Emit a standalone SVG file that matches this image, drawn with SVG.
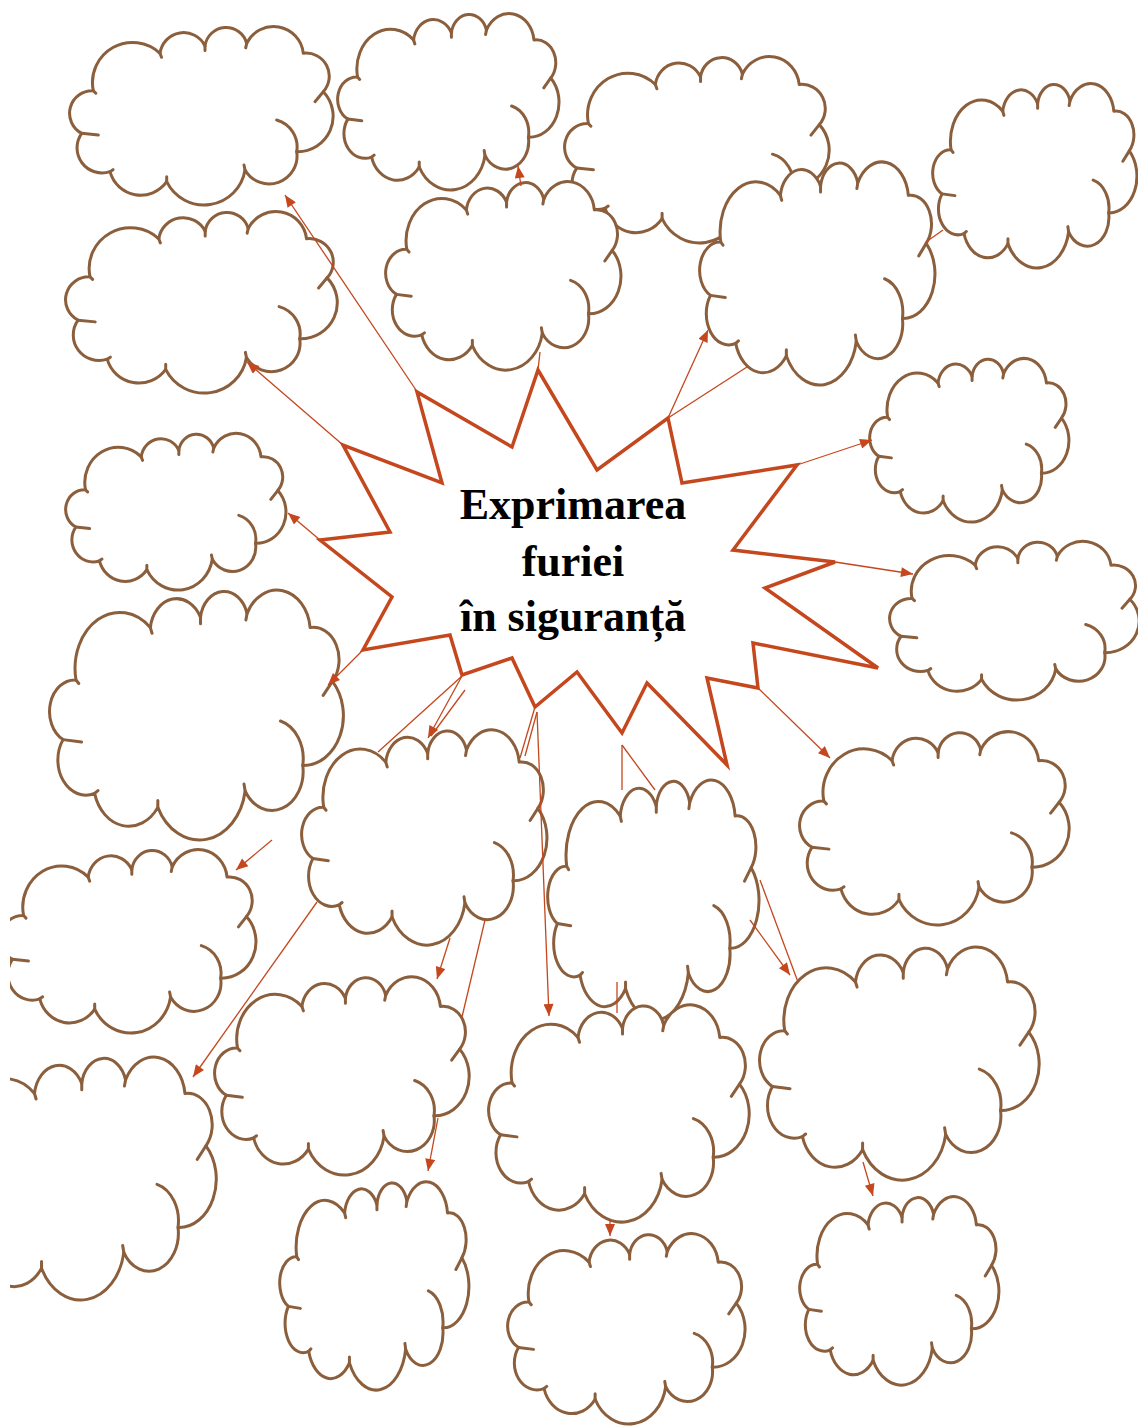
<svg xmlns="http://www.w3.org/2000/svg" xmlns:xlink="http://www.w3.org/1999/xlink" width="1138" height="1426" viewBox="0 0 1138 1426">
<style>
.co{fill:#fff;stroke:#8b5e3c;stroke-width:3;vector-effect:non-scaling-stroke;stroke-linejoin:round}
.ct{fill:none;stroke:#8b5e3c;stroke-width:3;vector-effect:non-scaling-stroke;stroke-linecap:round}
.ln{fill:none;stroke:#c4471d;stroke-width:1.3}
.ar{fill:none;stroke:#c4471d;stroke-width:1.3;marker-end:url(#ah)}
.star{fill:#fff;stroke:#c4471d;stroke-width:3.5;stroke-linejoin:miter}
.t{font-family:"Liberation Serif","Times New Roman",serif;font-weight:bold;font-size:44px;fill:#000;text-anchor:middle}
</style>
<defs>
<marker id="ah" viewBox="0 0 12 10" refX="12" refY="5" markerWidth="13" markerHeight="10" markerUnits="userSpaceOnUse" orient="auto"><path d="M0,0 L12,5 L0,10 z" fill="#c4471d"/></marker>
<clipPath id="clipL"><rect x="10" y="0" width="1128" height="1426"/></clipPath>
<g id="cloud">
<path class="co" d="M23.3 65.7 A40.1 40.1 0 0 1 90 28.3 A23.8 23.8 0 0 1 135 21 A21.3 21.3 0 0 1 176.7 18.3 A29.9 29.9 0 0 1 233.3 28.3 A23.1 23.1 0 0 1 253.3 66.7 A35.5 35.5 0 0 1 226.7 126.7 A27.9 27.9 0 0 1 175 145 A41.5 41.5 0 0 1 96.7 156.7 A31.8 31.8 0 0 1 40 146.7 A25.1 25.1 0 0 1 11.7 108.3 A22.6 22.6 0 0 1 23.3 65.7 Z"/>
<path class="ct" d="M23.3 65.7 l2.5 2.5 M90 28.3 l1.5 4 M135 21 l0 4.5 M176.7 18.3 l-1 4.5 M253.3 66.7 l-8.3 10 M206.7 95 A28 28 0 0 1 226.7 126.7 M175 145 l-1 -5 M96.7 156.7 l0 -5 M40 146.7 l3 -2 M11.7 108.3 l16.6 1.7"/>
</g>
</defs>
<rect width="1138" height="1426" fill="#fff"/>
<g id="clouds">
<use id="c1" xlink:href="#cloud" transform="translate(70,25) scale(1,1)"/>
<use id="c2" xlink:href="#cloud" transform="translate(338,12) scale(0.840,0.989)"/>
<use id="c3" xlink:href="#cloud" transform="translate(565,55) scale(1.004,1.044)"/>
<use id="c4" xlink:href="#cloud" transform="translate(933,82) scale(0.775,1.033)"/>
<use id="c5" xlink:href="#cloud" transform="translate(66,210) scale(1.031,1.017)"/>
<use id="c6" xlink:href="#cloud" transform="translate(386,180) scale(0.893,1.056)"/>
<use id="c7" xlink:href="#cloud" transform="translate(700,160) scale(0.893,1.25)"/>
<use id="c8" xlink:href="#cloud" transform="translate(870,357) scale(0.756,0.917)"/>
<use id="c9" xlink:href="#cloud" transform="translate(66,432) scale(0.836,0.878)"/>
<use id="c10" xlink:href="#cloud" transform="translate(890,540) scale(0.947,0.889)"/>
<use id="c11" xlink:href="#cloud" transform="translate(50,588) scale(1.115,1.4)"/>
<use id="c12" xlink:href="#cloud" transform="translate(302,728) scale(0.931,1.206)"/>
<use id="c13" xlink:href="#cloud" transform="translate(548,778) scale(0.802,1.344)"/>
<use id="c14" xlink:href="#cloud" transform="translate(800,730) scale(1.023,1.083)"/>
<g clip-path="url(#clipL)"><use id="c15" xlink:href="#cloud" transform="translate(1,848) scale(0.969,1.028)"/></g>
<use id="c16" xlink:href="#cloud" transform="translate(215,975) scale(0.966,1.111)"/>
<use id="c17" xlink:href="#cloud" transform="translate(489,1003) scale(0.989,1.217)"/>
<use id="c18" xlink:href="#cloud" transform="translate(760,945) scale(1.061,1.306)"/>
<g clip-path="url(#clipL)"><use id="c19" xlink:href="#cloud" transform="translate(-60,1055) scale(1.050,1.361)"/></g>
<use id="c20" xlink:href="#cloud" transform="translate(280,1180) scale(0.718,1.167)"/>
<use id="c21" xlink:href="#cloud" transform="translate(508,1232) scale(0.901,1.067)"/>
<use id="c22" xlink:href="#cloud" transform="translate(800,1195) scale(0.756,1.056)"/>
</g>
<g id="star">
<polygon class="star" points="538,370 597,470 668,418 682,483 797,465 733,550 835,562 765,588 878,668 753,643 758,688 707,678 727,765 647,683 622,733 577,672 535,707 512,658 462,675 450,635 363,650 392,597 320,540 390,532 343,445 442,483 417,392 512,447"/>
<text class="t" x="573" y="519">Exprimarea</text>
<text class="t" x="573" y="576">furiei</text>
<text class="t" x="573" y="631">în siguranță</text>
</g>
<g id="connectors">
<line class="ar" x1="418" y1="393" x2="285" y2="195"/>
<line class="ar" x1="343" y1="445" x2="247" y2="362"/>
<line class="ar" x1="320" y1="540" x2="288" y2="513"/>
<line class="ar" x1="363" y1="650" x2="328" y2="685"/>
<line class="ln" x1="538" y1="370" x2="540" y2="352"/>
<line class="ar" x1="521" y1="186" x2="518" y2="166"/>
<line class="ar" x1="668" y1="418" x2="708" y2="330"/>
<line class="ln" x1="668" y1="418" x2="747" y2="367"/>
<line class="ar" x1="797" y1="465" x2="872" y2="440"/>
<line class="ar" x1="835" y1="562" x2="913" y2="574"/>
<line class="ar" x1="758" y1="688" x2="830" y2="758"/>
<line class="ar" x1="462" y1="676" x2="428" y2="738"/>
<line class="ln" x1="465" y1="690" x2="431" y2="736"/>
<line class="ln" x1="462" y1="676" x2="378" y2="752"/>
<line class="ln" x1="535" y1="707" x2="520" y2="758"/>
<line class="ln" x1="537" y1="712" x2="525" y2="756"/>
<line class="ar" x1="537" y1="712" x2="549" y2="1016"/>
<line class="ln" x1="622" y1="745" x2="622" y2="790"/>
<line class="ln" x1="622" y1="745" x2="655" y2="790"/>
<line class="ar" x1="272" y1="840" x2="236" y2="870"/>
<line class="ar" x1="317" y1="902" x2="193" y2="1077"/>
<line class="ar" x1="450" y1="938" x2="437" y2="979"/>
<line class="ln" x1="485" y1="920" x2="462" y2="1017"/>
<line class="ar" x1="438" y1="1118" x2="428" y2="1171"/>
<line class="ln" x1="617" y1="982" x2="617" y2="1013"/>
<line class="ar" x1="750" y1="920" x2="790" y2="975"/>
<line class="ln" x1="760" y1="880" x2="798" y2="982"/>
<line class="ar" x1="610" y1="1220" x2="610" y2="1236"/>
<line class="ar" x1="863" y1="1162" x2="873" y2="1196"/>
<line class="ln" x1="926" y1="242" x2="943" y2="230"/>
</g>
</svg>
